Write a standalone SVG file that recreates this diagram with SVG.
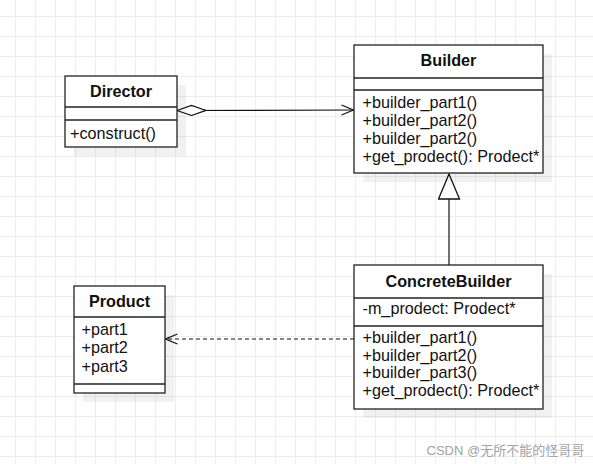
<svg xmlns="http://www.w3.org/2000/svg" width="593" height="464" viewBox="0 0 593 464">
<defs>
<pattern id="grid" x="15" y="16" width="20" height="20" patternUnits="userSpaceOnUse">
<path d="M0.5 0V20M0 0.5H20" fill="none" stroke="#ededed" stroke-width="1"/>
</pattern>
<marker id="open" viewBox="0 0 14 12" refX="13" refY="6" markerWidth="14" markerHeight="12" markerUnits="userSpaceOnUse" orient="auto">
<path d="M1 1L13 6L1 11" fill="none" stroke="#111" stroke-width="1.2"/>
</marker>
<marker id="diamond" viewBox="0 0 30 12" refX="0.5" refY="6" markerWidth="30" markerHeight="12" markerUnits="userSpaceOnUse" orient="auto">
<path d="M0.5 6L15 1L29.5 6L15 11Z" fill="#fff" stroke="#111" stroke-width="1.2"/>
</marker>
<marker id="tri" viewBox="0 0 27 23" refX="26" refY="11.5" markerWidth="27" markerHeight="23" markerUnits="userSpaceOnUse" orient="auto">
<path d="M1 1L26 11.5L1 22Z" fill="#fff" stroke="#111" stroke-width="1.3"/>
</marker>
</defs>
<style>
.box{fill:#fff;stroke:#222;stroke-width:1.3}
.sep{stroke:#222;stroke-width:1.3}
.shadow{fill:#000;opacity:0.055}
.t{font-family:"Liberation Sans",Arial,sans-serif;font-size:16.2px;fill:#111}
.h{font-family:"Liberation Sans",Arial,sans-serif;font-size:16.2px;font-weight:bold;fill:#111;text-anchor:middle}
.edge{fill:none;stroke:#111;stroke-width:1.2}
</style>
<rect width="593" height="464" fill="#fff"/>
<rect width="593" height="464" fill="url(#grid)"/>

<g id="connectors">
<path class="edge" d="M177 110.5L353.5 110" marker-start="url(#diamond)" marker-end="url(#open)"/>
<path class="edge" d="M449 265V174" marker-end="url(#tri)"/>
<path class="edge" d="M354 339H165.5" stroke-dasharray="4 3" marker-end="url(#open)"/>
</g>

<g id="Director">
<rect class="shadow" x="74" y="85" width="112" height="71"/>
<rect class="box" x="65" y="76" width="112" height="71"/>
<line class="sep" x1="65" y1="107" x2="177" y2="107"/>
<line class="sep" x1="65" y1="120" x2="177" y2="120"/>
<text class="h" x="121" y="97">Director</text>
<text class="t" x="70" y="138.5">+construct()</text>
</g>

<g id="Builder">
<rect class="shadow" x="363" y="54" width="189" height="128"/>
<rect class="box" x="354" y="45" width="189" height="128"/>
<line class="sep" x1="354" y1="78" x2="543" y2="78"/>
<line class="sep" x1="354" y1="90" x2="543" y2="90"/>
<text class="h" x="448.5" y="66">Builder</text>
<text class="t" x="362.5" y="107.7">+builder_part1()</text>
<text class="t" x="362.5" y="126">+builder_part2()</text>
<text class="t" x="362.5" y="144.3">+builder_part2()</text>
<text class="t" x="362.5" y="162">+get_prodect(): Prodect*</text>
</g>

<g id="ConcreteBuilder">
<rect class="shadow" x="363" y="274" width="189" height="144"/>
<rect class="box" x="354" y="265" width="189" height="144"/>
<line class="sep" x1="354" y1="298" x2="543" y2="298"/>
<line class="sep" x1="354" y1="326" x2="543" y2="326"/>
<text class="h" x="448.5" y="286.7">ConcreteBuilder</text>
<text class="t" x="362.5" y="314.3">-m_prodect: Prodect*</text>
<text class="t" x="362.5" y="342.7">+builder_part1()</text>
<text class="t" x="362.5" y="360.5">+builder_part2()</text>
<text class="t" x="362.5" y="378.3">+builder_part3()</text>
<text class="t" x="362.5" y="396">+get_prodect(): Prodect*</text>
</g>

<g id="Product">
<rect class="shadow" x="83" y="295" width="91" height="107"/>
<rect class="box" x="74" y="286" width="91" height="107"/>
<line class="sep" x1="74" y1="317" x2="165" y2="317"/>
<line class="sep" x1="74" y1="384" x2="165" y2="384"/>
<text class="h" x="119.5" y="306.7">Product</text>
<text class="t" x="81.5" y="335">+part1</text>
<text class="t" x="81.5" y="353.3">+part2</text>
<text class="t" x="81.5" y="371.7">+part3</text>
</g>

<text x="426.5" y="455" font-family="'Liberation Sans','Noto Sans CJK SC',sans-serif" font-size="13px" fill="#a3a3a3">CSDN @无所不能的怪哥哥</text>
</svg>
